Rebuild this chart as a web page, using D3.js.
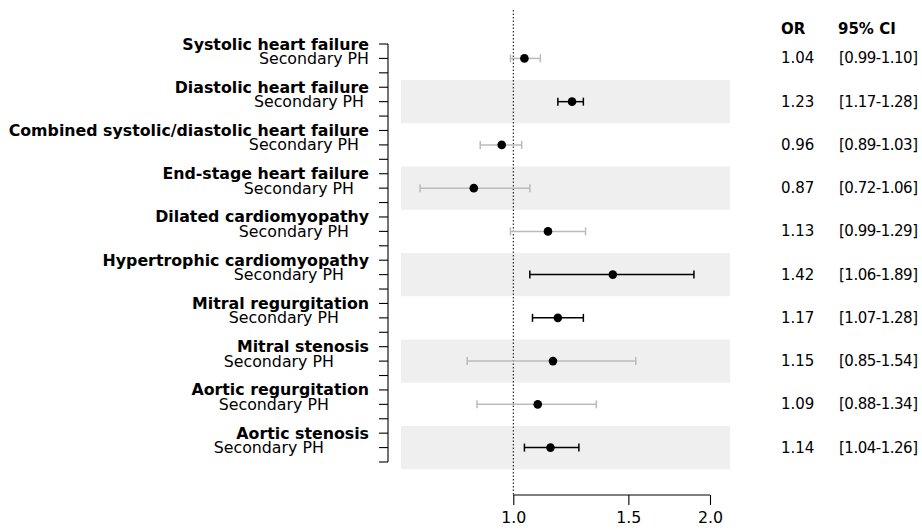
<html>
<head>
<script src="https://d3js.org/d3.v7.min.js"></script>
<style>
  body { margin: 0; background: #fff; }
  text { font-family: "DejaVu Sans", sans-serif; fill: #000; }
</style>
</head>
<body>
<svg id="chart" width="922" height="530"></svg>
<script>
const conditions = [
  "Systolic heart failure",
  "Diastolic heart failure",
  "Combined systolic/diastolic heart failure",
  "End-stage heart failure",
  "Dilated cardiomyopathy",
  "Hypertrophic cardiomyopathy",
  "Mitral regurgitation",
  "Mitral stenosis",
  "Aortic regurgitation",
  "Aortic stenosis"
];
const subLabel = "Secondary PH";
const oddsRatio = [1.04, 1.23, 0.96, 0.87, 1.13, 1.42, 1.17, 1.15, 1.09, 1.14];
const ciLow  = [0.99, 1.17, 0.89, 0.72, 0.99, 1.06, 1.07, 0.85, 0.88, 1.04];
const ciHigh = [1.10, 1.28, 1.03, 1.06, 1.29, 1.89, 1.28, 1.54, 1.34, 1.26];
const xTicks = [1.0, 1.5, 2.0];

const svg = d3.select("#chart");
const FS = 15;
const LFS = 15.8;

// log x scale, 1.0 -> 513, 2.0 -> 710
const x = d3.scaleLog().domain([1, 2]).range([513.3, 710]);
// rows: 3 per condition (title, subgroup, blank)
const nRows = conditions.length * 3;
const y = d3.scaleLinear().domain([0, nRows - 1]).range([44, 462]);
const step = y(1) - y(0);
const axisY = 495;
const bandX = [401, 730];

const data = conditions.map((c, i) => ({
  name: c, i, or: oddsRatio[i], lo: ciLow[i], hi: ciHigh[i],
  yT: y(i * 3), yS: y(i * 3 + 1)
}));

// shaded bands on every second group
svg.append("g").selectAll("rect")
  .data(data.filter(d => d.i % 2 === 1))
  .join("rect")
  .attr("x", bandX[0]).attr("width", bandX[1] - bandX[0])
  .attr("y", d => d.yS - 1.5 * step).attr("height", 3 * step)
  .attr("fill", "#efefef");

// reference line at OR = 1
svg.append("line")
  .attr("x1", x(1)).attr("x2", x(1))
  .attr("y1", 10).attr("y2", axisY)
  .attr("stroke", "#000").attr("stroke-width", 1)
  .attr("stroke-dasharray", "1.5,2");

// left axis spine + ticks
const left = svg.append("g");
left.append("line")
  .attr("x1", 388).attr("x2", 388).attr("y1", y(0)).attr("y2", y(nRows - 1))
  .attr("stroke", "#000").attr("stroke-width", 1.1);
left.selectAll("line.tk").data(d3.range(nRows)).join("line")
  .attr("class", "tk")
  .attr("x1", 379).attr("x2", 388)
  .attr("y1", d => y(d)).attr("y2", d => y(d))
  .attr("stroke", "#000").attr("stroke-width", 1.1);

left.selectAll("text.title").data(data).join("text")
  .attr("class", "title")
  .attr("x", 369).attr("y", d => d.yT)
  .attr("text-anchor", "end").attr("dominant-baseline", "central")
  .attr("font-size", LFS).attr("font-weight", "bold")
  .text(d => d.name);

left.selectAll("text.sub").data(data).join("text")
  .attr("class", "sub")
  .attr("x", 369).attr("y", d => d.yS)
  .attr("text-anchor", "end").attr("dominant-baseline", "central")
  .attr("font-size", LFS)
  .style("white-space", "pre")
  .text(d => subLabel + " ".repeat(d.i));

// error bars
const crosses = d => d.lo <= 1 && d.hi >= 1;
const bars = svg.append("g").selectAll("g").data(data).join("g")
  .attr("stroke", d => crosses(d) ? "#bbbbbb" : "#000")
  .attr("stroke-width", 1.5);
bars.append("line")
  .attr("x1", d => x(d.lo)).attr("x2", d => x(d.hi))
  .attr("y1", d => d.yS).attr("y2", d => d.yS);
bars.append("line")
  .attr("x1", d => x(d.lo)).attr("x2", d => x(d.lo))
  .attr("y1", d => d.yS - 4).attr("y2", d => d.yS + 4);
bars.append("line")
  .attr("x1", d => x(d.hi)).attr("x2", d => x(d.hi))
  .attr("y1", d => d.yS - 4).attr("y2", d => d.yS + 4);

svg.append("g").selectAll("circle").data(data).join("circle")
  .attr("cx", d => x(d.or)).attr("cy", d => d.yS).attr("r", 4.3)
  .attr("fill", "#000");

// bottom axis
const xAxis = d3.axisBottom(x).tickValues(xTicks).tickFormat(d3.format(".1f"))
  .tickSize(10).tickPadding(7);
const gx = svg.append("g").attr("transform", `translate(0,${axisY})`).call(xAxis);
gx.select(".domain").attr("d", `M${x(1)},0H${x(2)}`).attr("stroke-width", 1.1);
gx.selectAll(".tick line").attr("stroke-width", 1.1);
gx.selectAll("text").attr("font-size", LFS).attr("font-family", "DejaVu Sans");

// right-hand table
const tbl = svg.append("g");
tbl.append("text").attr("x", 781).attr("y", 29).attr("dominant-baseline", "central")
  .attr("font-size", FS).attr("font-weight", "bold").text("OR");
tbl.append("text").attr("x", 838).attr("y", 29).attr("dominant-baseline", "central")
  .attr("font-size", FS).attr("font-weight", "bold").text("95% CI");
tbl.selectAll("text.or").data(data).join("text")
  .attr("class", "or").attr("x", 781).attr("y", d => d.yS)
  .attr("dominant-baseline", "central").attr("font-size", FS)
  .text(d => d.or.toFixed(2));
tbl.selectAll("text.ci").data(data).join("text")
  .attr("class", "ci").attr("x", 839).attr("y", d => d.yS)
  .attr("dominant-baseline", "central").attr("font-size", FS)
  .attr("textLength", 79).attr("lengthAdjust", "spacing")
  .text(d => `[${d.lo.toFixed(2)}-${d.hi.toFixed(2)}]`);
</script>
</body>
</html>
